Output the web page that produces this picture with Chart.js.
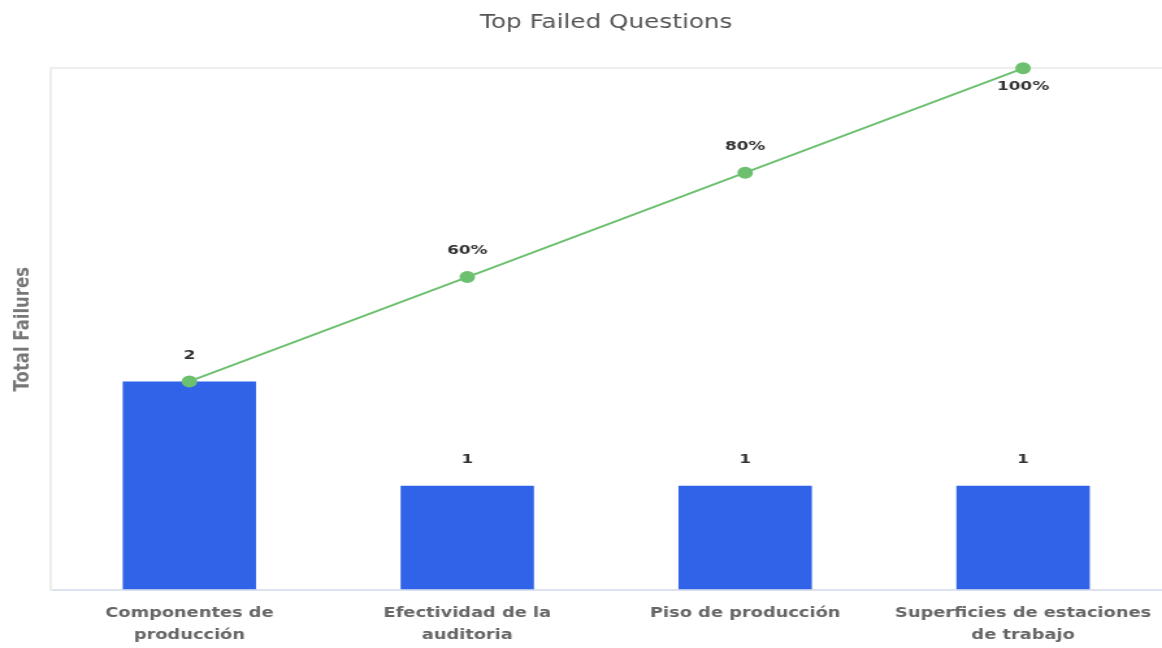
<!DOCTYPE html>
<html>
<head>
<meta charset="utf-8">
<script src="https://cdn.jsdelivr.net/npm/chart.js@4.4.0/dist/chart.umd.min.js"></script>
<style>
  html, body { margin: 0; padding: 0; background: #fff; overflow: hidden; }
  /* the reference is drawn wide, so the chart is laid out narrow and stretched */
  #wrap { width: 894px; height: 648px; transform: scaleX(1.2998); transform-origin: 0 0; }
  #chart { display: block; }
</style>
</head>
<body>
<div id="wrap"><canvas id="chart" width="894" height="648"></canvas></div>
<script>
// data
let categories = [
    ["Componentes de", "producción"],
    ["Efectividad de la", "auditoria"],
    "Piso de producción",
    ["Superficies de estaciones", "de trabajo"]
];
let failures = [2, 1, 1, 1];
let cumulative = [40, 60, 80, 100];

const FONT = "'DejaVu Sans', Verdana, sans-serif";

// draws the value labels over bars and points, skipping ones that collide
const valueLabels = {
    id: "valueLabels",
    afterDatasetsDraw(chart)
    {
        const ctx = chart.ctx;
        const boxes = [];
        ctx.save();
        ctx.font = "bold 13px " + FONT;
        ctx.fillStyle = "#333";
        ctx.textAlign = "center";
        ctx.textBaseline = "middle";

        const put = function(text, x, y)
        {
            const w = ctx.measureText(text).width, h = 14;
            const box = { l: x - w / 2, r: x + w / 2, t: y - h / 2, b: y + h / 2 };
            for (const o of boxes)
            {
                if (box.l < o.r && box.r > o.l && box.t < o.b && box.b > o.t) return;
            }
            boxes.push(box);
            ctx.fillText(text, x, y);
        };

        // bars first
        chart.getDatasetMeta(0).data.forEach(function(el, i)
        {
            put(String(failures[i]), el.x, el.y - 26);
        });
        // then the cumulative line
        chart.getDatasetMeta(1).data.forEach(function(el, i)
        {
            let y = el.y - 26;
            if (y < chart.chartArea.top + 8) y = el.y + 18;
            put(cumulative[i] + "%", el.x, y);
        });
        ctx.restore();
    }
};

let myChart = document.getElementById("chart").getContext("2d");
let display = new Chart(myChart,
{
    data:
    {
        labels: categories,
        datasets: [
            {
                type: "bar",
                label: "Total Failures",
                data: failures,
                backgroundColor: "#3063e8",
                yAxisID: "y",
                categoryPercentage: 0.8,
                barPercentage: 0.6,
                order: 2
            },
            {
                type: "line",
                label: "Cumulative %",
                data: cumulative,
                borderColor: "#6cc070",
                backgroundColor: "#6cc070",
                borderWidth: 2,
                pointRadius: 5,
                pointHoverRadius: 5,
                yAxisID: "pct",
                clip: false,
                order: 1
            }
        ]
    },
    options:
    {
        responsive: false,
        animation: false,
        layout: { autoPadding: false, padding: { left: 0, right: 0, top: 0, bottom: -10 } },
        plugins:
        {
            legend: { display: false },
            tooltip: { enabled: false },
            title:
            {
                display: true,
                fullSize: false,   // centred over the plot, not the whole canvas
                text: "Top Failed Questions",
                color: "#555",
                font: { family: FONT, size: 19, weight: "normal" },
                padding: { top: 12, bottom: 33.5 }
            }
        },
        scales:
        {
            x:
            {
                grid: { display: false, drawTicks: false },
                border: { color: "#dde2f0", width: 2 },
                ticks:
                {
                    color: "#666",
                    font: { family: FONT, size: 13.7, weight: "bold", lineHeight: 1.6 },
                    padding: 12,
                    maxRotation: 0
                },
                // let the plot run to the right edge like the original
                afterFit: function(scale)
                {
                    scale.paddingRight = 0;
                }
            },
            y:
            {
                position: "left",
                min: 0,
                max: 5,
                ticks: { display: false, stepSize: 5 },
                grid: { color: "#eeeeee", lineWidth: 2, drawTicks: false },
                border: { color: "#eeeeee", width: 2 },
                title:
                {
                    display: true,
                    text: "Total Failures",
                    color: "#777",
                    font: { family: FONT, size: 16.5, weight: "bold" },
                    padding: { top: 7.5, bottom: 11.5 }
                }
            },
            pct:
            {
                display: false,
                position: "right",
                min: 0,
                max: 100
            }
        }
    },
    plugins: [valueLabels]
});
</script>
</body>
</html>
